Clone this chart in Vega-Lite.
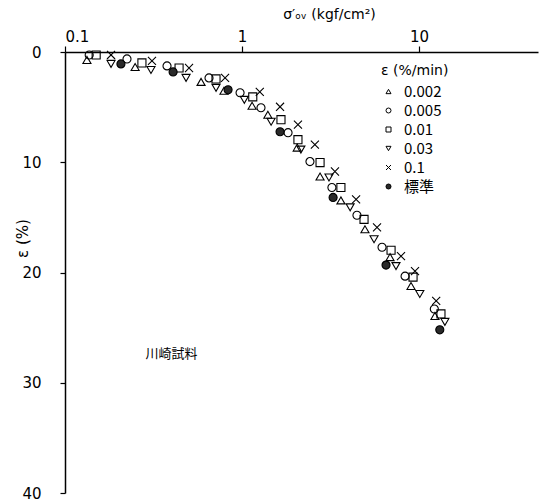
{
  "$schema": "https://vega.github.io/schema/vega-lite/v6.json",
  "width": 473,
  "height": 441,
  "autosize": {"type": "none"},
  "padding": {"left": 65, "top": 52, "right": 8, "bottom": 9},
  "background": "white",
  "config": {
    "view": {"stroke": null},
    "font": "DejaVu Sans",
    "axis": {"grid": false, "domainColor": "black", "tickColor": "black", "labelColor": "black", "titleColor": "black", "domainWidth": 1.5, "tickWidth": 1.2, "labelFont": "DejaVu Sans", "titleFont": "DejaVu Sans", "titleFontWeight": "normal"},
    "legend": {"symbolStrokeColor": "black", "symbolStrokeWidth": 1}
  },
  "encoding": {
    "x": {
      "field": "s", "type": "quantitative",
      "scale": {"type": "log", "domain": [0.1, 47], "nice": false},
      "axis": {"orient": "top", "values": [0.1, 1, 10], "format": "~g", "tickSize": 6, "labelFontSize": 15, "labelPadding": 2, "title": "σ′ₒᵥ  (kgf/cm²)", "titleFontSize": 14, "titleX": 264, "titleY": -38, "titleBaseline": "middle", "titleAnchor": "middle"}
    },
    "y": {
      "field": "e", "type": "quantitative",
      "scale": {"domain": [0, 40], "reverse": true, "nice": false, "zero": false},
      "axis": {"values": [0, 10, 20, 30, 40], "tickSize": 5, "labelFontSize": 15, "labelPadding": 19, "title": "ε (%)", "titleFontSize": 15, "titleX": -43, "titleY": 186, "titleBaseline": "middle", "titleAnchor": "middle"}
    }
  },
  "layer": [
    {
      "data": {"values": [
        {"rate": "0.002", "s": 0.133, "e": 0.72},
        {"rate": "0.002", "s": 0.249, "e": 1.36},
        {"rate": "0.002", "s": 0.587, "e": 2.71},
        {"rate": "0.002", "s": 0.791, "e": 3.52},
        {"rate": "0.002", "s": 1.14, "e": 4.88},
        {"rate": "0.002", "s": 1.40, "e": 5.69},
        {"rate": "0.002", "s": 2.05, "e": 8.67},
        {"rate": "0.002", "s": 2.76, "e": 11.29},
        {"rate": "0.002", "s": 3.62, "e": 13.46},
        {"rate": "0.002", "s": 4.95, "e": 16.08},
        {"rate": "0.002", "s": 6.86, "e": 18.61},
        {"rate": "0.002", "s": 9.01, "e": 21.23},
        {"rate": "0.002", "s": 12.3, "e": 23.94},
        {"rate": "0.005", "s": 0.137, "e": 0.27},
        {"rate": "0.005", "s": 0.224, "e": 0.63},
        {"rate": "0.005", "s": 0.377, "e": 1.26},
        {"rate": "0.005", "s": 0.651, "e": 2.35},
        {"rate": "0.005", "s": 0.975, "e": 3.70},
        {"rate": "0.005", "s": 1.28, "e": 5.06},
        {"rate": "0.005", "s": 1.82, "e": 7.32},
        {"rate": "0.005", "s": 2.42, "e": 9.94},
        {"rate": "0.005", "s": 3.22, "e": 12.29},
        {"rate": "0.005", "s": 4.46, "e": 14.81},
        {"rate": "0.005", "s": 6.18, "e": 17.71},
        {"rate": "0.005", "s": 8.34, "e": 20.33},
        {"rate": "0.005", "s": 12.2, "e": 23.31},
        {"rate": "0.01", "s": 0.150, "e": 0.27},
        {"rate": "0.01", "s": 0.272, "e": 0.99},
        {"rate": "0.01", "s": 0.441, "e": 1.45},
        {"rate": "0.01", "s": 0.713, "e": 2.44},
        {"rate": "0.01", "s": 1.15, "e": 4.07},
        {"rate": "0.01", "s": 1.66, "e": 6.14},
        {"rate": "0.01", "s": 2.07, "e": 7.95},
        {"rate": "0.01", "s": 2.76, "e": 10.03},
        {"rate": "0.01", "s": 3.62, "e": 12.29},
        {"rate": "0.01", "s": 4.89, "e": 15.18},
        {"rate": "0.01", "s": 6.95, "e": 17.98},
        {"rate": "0.01", "s": 9.25, "e": 20.42},
        {"rate": "0.01", "s": 13.3, "e": 23.76},
        {"rate": "0.03", "s": 0.182, "e": 1.08},
        {"rate": "0.03", "s": 0.306, "e": 1.63},
        {"rate": "0.03", "s": 0.483, "e": 2.35},
        {"rate": "0.03", "s": 0.713, "e": 3.25},
        {"rate": "0.03", "s": 1.03, "e": 4.34},
        {"rate": "0.03", "s": 1.46, "e": 6.32},
        {"rate": "0.03", "s": 2.15, "e": 8.85},
        {"rate": "0.03", "s": 3.10, "e": 11.38},
        {"rate": "0.03", "s": 4.08, "e": 14.09},
        {"rate": "0.03", "s": 5.57, "e": 16.98},
        {"rate": "0.03", "s": 7.41, "e": 19.42},
        {"rate": "0.03", "s": 10.1, "e": 21.95},
        {"rate": "0.03", "s": 14.0, "e": 24.48},
        {"rate": "0.1", "s": 0.182, "e": 0.27},
        {"rate": "0.1", "s": 0.310, "e": 0.81},
        {"rate": "0.1", "s": 0.502, "e": 1.45},
        {"rate": "0.1", "s": 0.802, "e": 2.35},
        {"rate": "0.1", "s": 1.26, "e": 3.61},
        {"rate": "0.1", "s": 1.64, "e": 4.97},
        {"rate": "0.1", "s": 2.07, "e": 6.59},
        {"rate": "0.1", "s": 2.58, "e": 8.40},
        {"rate": "0.1", "s": 3.35, "e": 10.84},
        {"rate": "0.1", "s": 4.41, "e": 13.37},
        {"rate": "0.1", "s": 5.79, "e": 15.90},
        {"rate": "0.1", "s": 7.91, "e": 18.52},
        {"rate": "0.1", "s": 9.49, "e": 19.87},
        {"rate": "0.1", "s": 12.5, "e": 22.58},
        {"rate": "標準", "s": 0.207, "e": 1.08},
        {"rate": "標準", "s": 0.408, "e": 1.81},
        {"rate": "標準", "s": 0.834, "e": 3.43},
        {"rate": "標準", "s": 1.64, "e": 7.23},
        {"rate": "標準", "s": 3.27, "e": 13.19},
        {"rate": "標準", "s": 6.51, "e": 19.33},
        {"rate": "標準", "s": 13.1, "e": 25.20}
      ]},
      "mark": {"type": "point", "size": 65, "strokeWidth": 1.1, "opacity": 1},
      "encoding": {
        "shape": {
          "field": "rate", "type": "nominal",
          "scale": {"domain": ["0.002", "0.005", "0.01", "0.03", "0.1", "標準"], "range": ["triangle-up", "circle", "square", "triangle-down", "M-1,-1L1,1M-1,1L1,-1", "circle"]},
          "legend": {"title": "ε (%/min)", "orient": "none", "legendX": 316, "legendY": 12, "titleFontSize": 14, "titleFontWeight": "normal", "titleColor": "black", "titlePadding": 6, "labelFontSize": 15, "labelColor": "black", "labelOffset": 8, "symbolSize": 25, "symbolStrokeColor": "black", "symbolStrokeWidth": 1, "rowPadding": 3, "labelFont": "Noto Sans CJK JP", "titleFont": "DejaVu Sans"}
        },
        "fill": {
          "field": "rate", "type": "nominal",
          "scale": {"domain": ["0.002", "0.005", "0.01", "0.03", "0.1", "標準"], "range": ["transparent", "transparent", "transparent", "transparent", "transparent", "#2a2a2a"]},
          "legend": {"title": "ε (%/min)", "orient": "none", "legendX": 316, "legendY": 12}
        },
        "stroke": {
          "field": "rate", "type": "nominal",
          "scale": {"domain": ["0.002", "0.005", "0.01", "0.03", "0.1", "標準"], "range": ["black", "black", "black", "black", "black", "black"]},
          "legend": {"title": "ε (%/min)", "orient": "none", "legendX": 316, "legendY": 12}
        }
      }
    },
    {
      "data": {"values": [{"s": 0.4, "e": 27.4, "label": "川崎試料"}]},
      "mark": {"type": "text", "font": "Noto Sans CJK JP", "fontSize": 13, "color": "black"},
      "encoding": {"text": {"field": "label"}}
    }
  ]
}
